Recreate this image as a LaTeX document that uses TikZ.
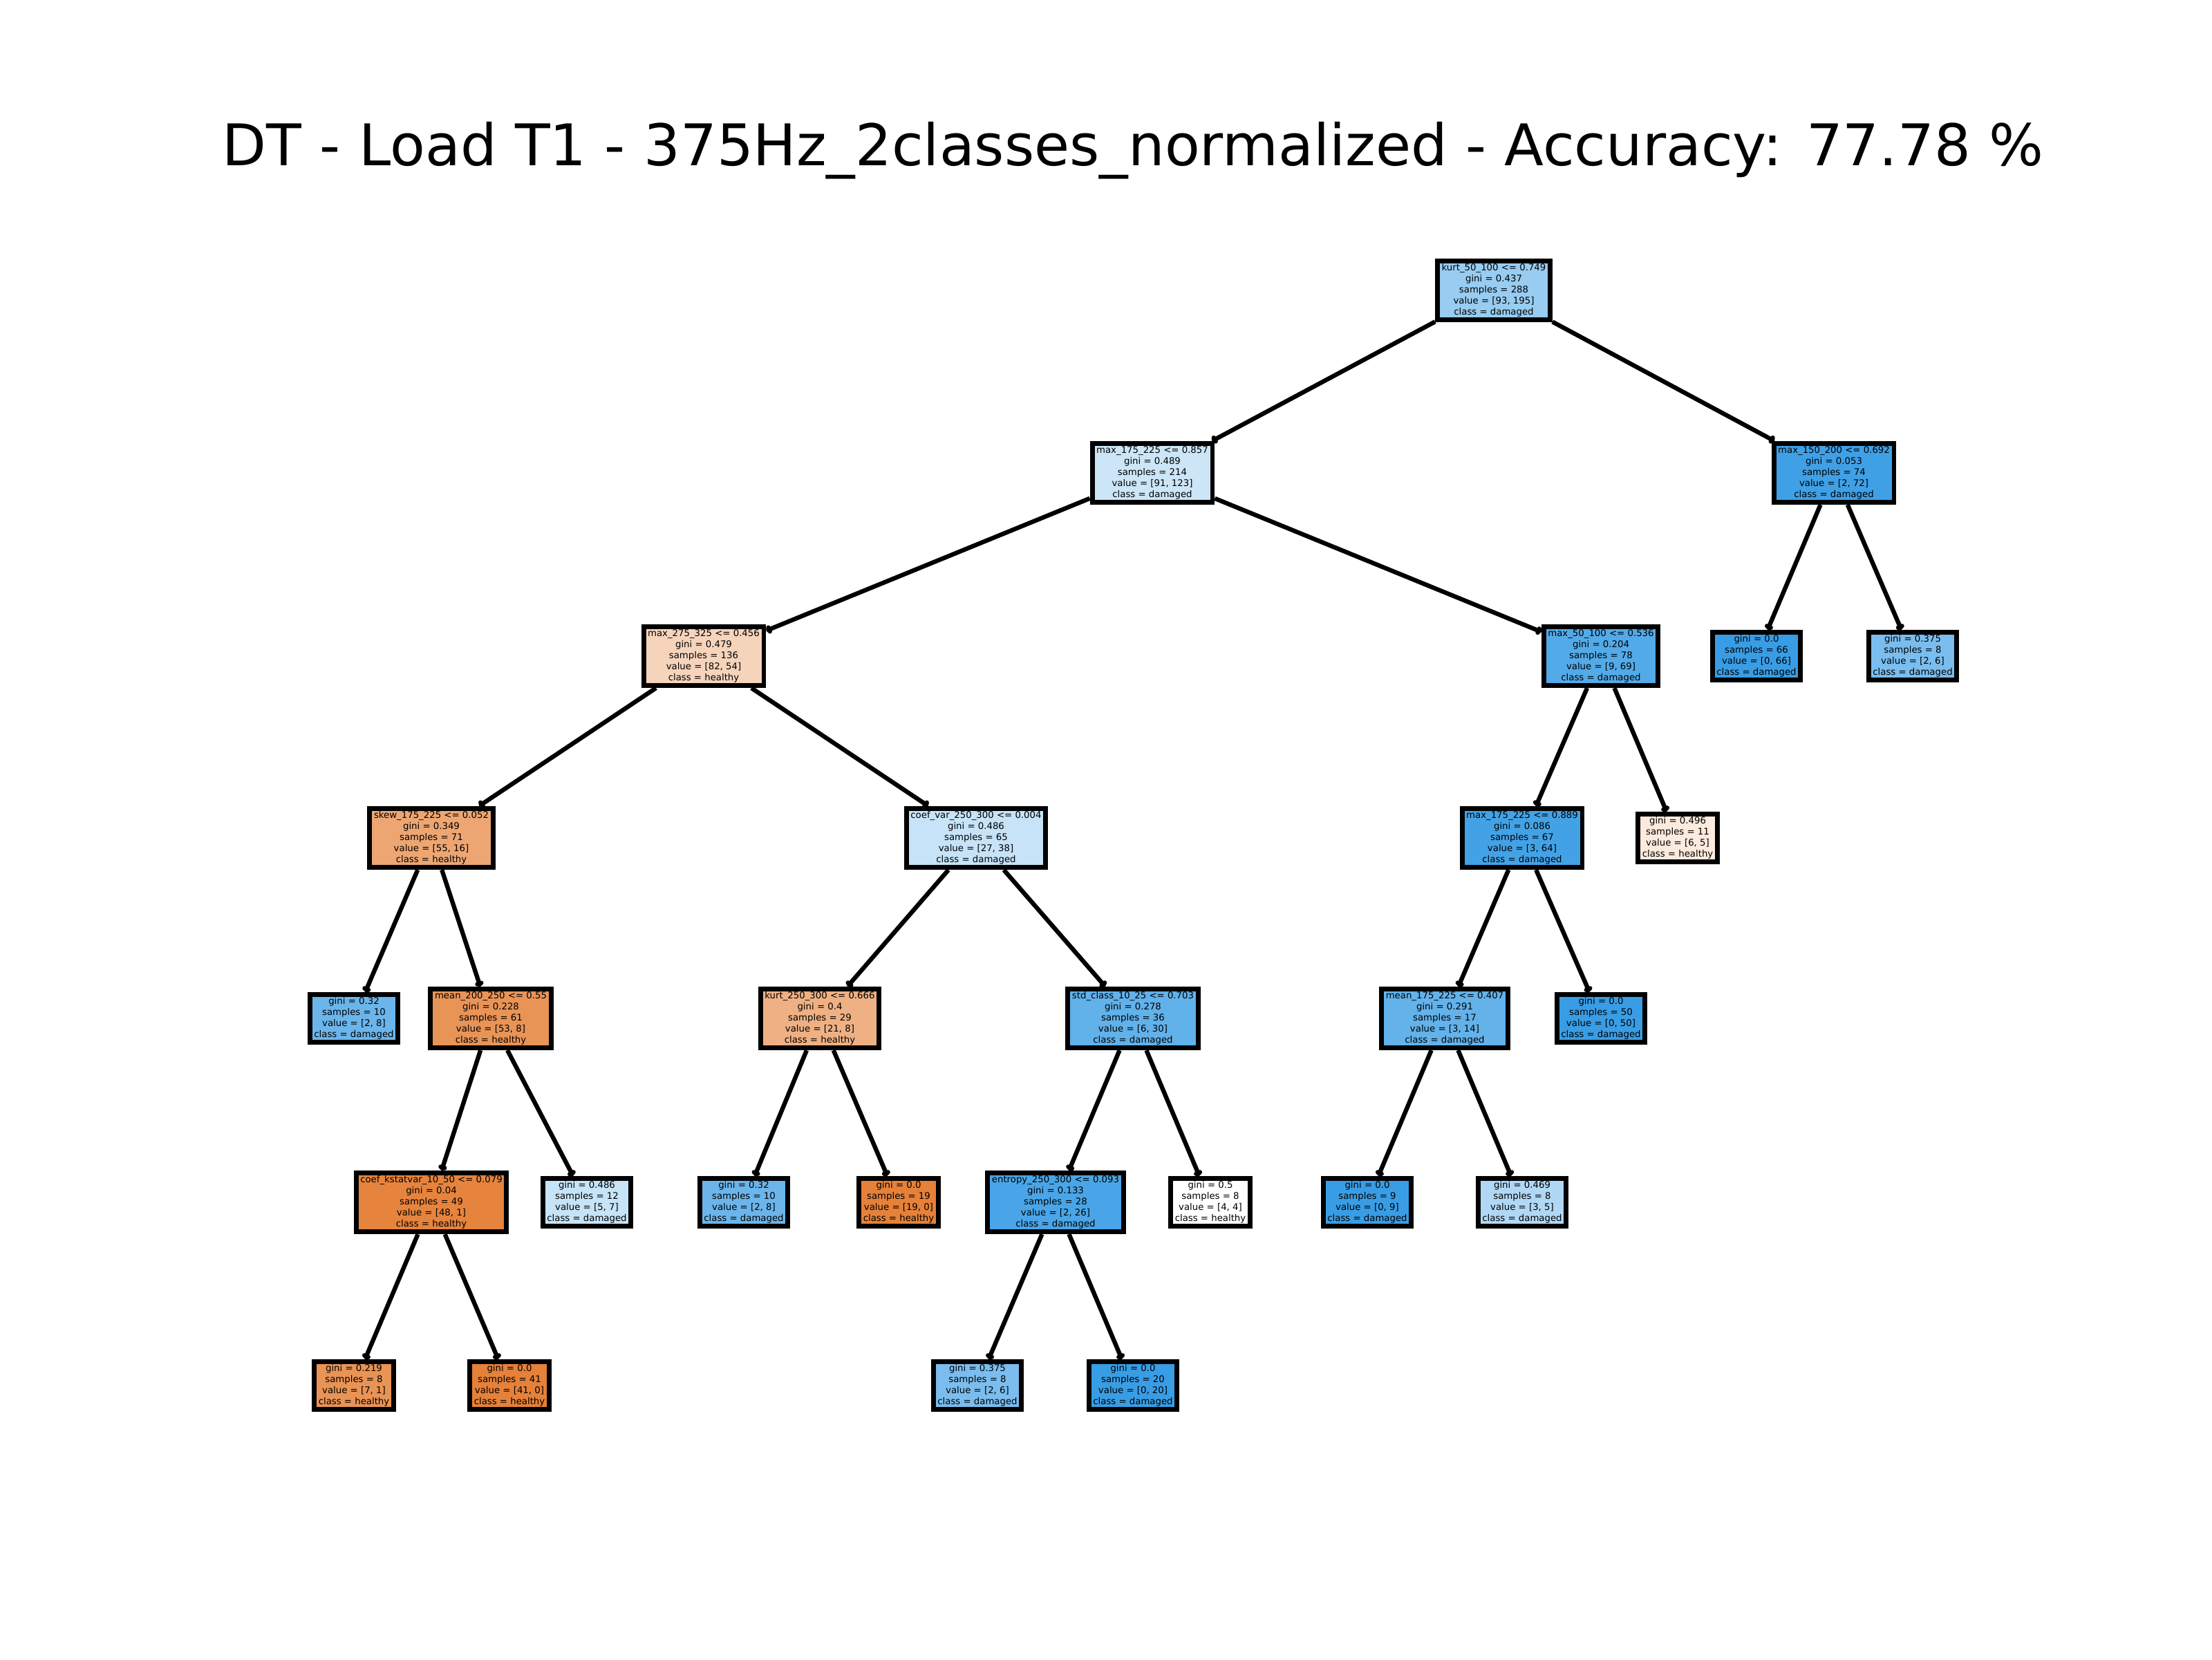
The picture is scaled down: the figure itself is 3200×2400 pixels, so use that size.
\documentclass[tikz,border=0pt]{standalone}
\usepackage{fontspec}
\setmainfont{DejaVu Sans}
\usetikzlibrary{arrows.meta}
\definecolor{healthy}{HTML}{E58139}
\definecolor{damaged}{HTML}{399DE5}
\begin{document}
\begin{tikzpicture}[
    x=0.0127cm, y=-0.0127cm,
    box/.style={rectangle, draw=black, line width=2.5pt, align=center, inner xsep=2.2pt, inner ysep=1.6pt, font=\fontsize{4.8}{5.76}\selectfont},
    arr/.style={-{To[length=2.8pt, width=4.5pt]}, line width=2.3pt}
]
    \useasboundingbox (0,0) rectangle (3200,2400);

    % Title
    \node (title) at (1639,218) {\fontsize{30}{36}\selectfont DT - Load T1 - 375Hz\_2classes\_normalized - Accuracy: 77.78 \%};

    % Depth 0
    \node[box, fill=damaged!52!white] (root) at (2161,420) {kurt\_50\_100 <= 0.749\\gini = 0.437\\samples = 288\\value = [93, 195]\\class = damaged};

    % Depth 1
    \node[box, fill=damaged!26!white] (L) at (1667,684) {max\_175\_225 <= 0.857\\gini = 0.489\\samples = 214\\value = [91, 123]\\class = damaged};
    \node[box, fill=damaged!97!white] (R) at (2653,684) {max\_150\_200 <= 0.692\\gini = 0.053\\samples = 74\\value = [2, 72]\\class = damaged};

    % Depth 2
    \node[box, fill=healthy!34!white] (LL) at (1018,949) {max\_275\_325 <= 0.456\\gini = 0.479\\samples = 136\\value = [82, 54]\\class = healthy};
    \node[box, fill=damaged!87!white] (LR) at (2316,949) {max\_50\_100 <= 0.536\\gini = 0.204\\samples = 78\\value = [9, 69]\\class = damaged};
    \node[box, fill=damaged] (RL) at (2541,949) {gini = 0.0\\samples = 66\\value = [0, 66]\\class = damaged};
    \node[box, fill=damaged!67!white] (RR) at (2767,949) {gini = 0.375\\samples = 8\\value = [2, 6]\\class = damaged};

    % Depth 3
    \node[box, fill=healthy!71!white] (LLL) at (624,1212) {skew\_175\_225 <= 0.052\\gini = 0.349\\samples = 71\\value = [55, 16]\\class = healthy};
    \node[box, fill=damaged!29!white] (LLR) at (1412,1212) {coef\_var\_250\_300 <= 0.004\\gini = 0.486\\samples = 65\\value = [27, 38]\\class = damaged};
    \node[box, fill=damaged!95!white] (LRL) at (2202,1212) {max\_175\_225 <= 0.889\\gini = 0.086\\samples = 67\\value = [3, 64]\\class = damaged};
    \node[box, fill=healthy!17!white] (LRR) at (2427,1212) {gini = 0.496\\samples = 11\\value = [6, 5]\\class = healthy};

    % Depth 4
    \node[box, fill=damaged!75!white] (LLLL) at (512,1473) {gini = 0.32\\samples = 10\\value = [2, 8]\\class = damaged};
    \node[box, fill=healthy!85!white] (LLLR) at (710,1473) {mean\_200\_250 <= 0.55\\gini = 0.228\\samples = 61\\value = [53, 8]\\class = healthy};
    \node[box, fill=healthy!62!white] (LLRL) at (1186,1473) {kurt\_250\_300 <= 0.666\\gini = 0.4\\samples = 29\\value = [21, 8]\\class = healthy};
    \node[box, fill=damaged!80!white] (LLRR) at (1639,1473) {std\_class\_10\_25 <= 0.703\\gini = 0.278\\samples = 36\\value = [6, 30]\\class = damaged};
    \node[box, fill=damaged!79!white] (LRLL) at (2090,1473) {mean\_175\_225 <= 0.407\\gini = 0.291\\samples = 17\\value = [3, 14]\\class = damaged};
    \node[box, fill=damaged] (LRLR) at (2316,1473) {gini = 0.0\\samples = 50\\value = [0, 50]\\class = damaged};

    % Depth 5
    \node[box, fill=healthy!98!white] (LLLRL) at (624,1739) {coef\_kstatvar\_10\_50 <= 0.079\\gini = 0.04\\samples = 49\\value = [48, 1]\\class = healthy};
    \node[box, fill=damaged!29!white] (LLLRR) at (849,1739) {gini = 0.486\\samples = 12\\value = [5, 7]\\class = damaged};
    \node[box, fill=damaged!75!white] (LLRLL) at (1076,1739) {gini = 0.32\\samples = 10\\value = [2, 8]\\class = damaged};
    \node[box, fill=healthy] (LLRLR) at (1300,1739) {gini = 0.0\\samples = 19\\value = [19, 0]\\class = healthy};
    \node[box, fill=damaged!92!white] (LLRRL) at (1527,1739) {entropy\_250\_300 <= 0.093\\gini = 0.133\\samples = 28\\value = [2, 26]\\class = damaged};
    \node[box, fill=white] (LLRRR) at (1751,1739) {gini = 0.5\\samples = 8\\value = [4, 4]\\class = healthy};
    \node[box, fill=damaged] (LRLLL) at (1978,1739) {gini = 0.0\\samples = 9\\value = [0, 9]\\class = damaged};
    \node[box, fill=damaged!40!white] (LRLLR) at (2202,1739) {gini = 0.469\\samples = 8\\value = [3, 5]\\class = damaged};

    % Depth 6
    \node[box, fill=healthy!86!white] (LLLRLL) at (512,2004) {gini = 0.219\\samples = 8\\value = [7, 1]\\class = healthy};
    \node[box, fill=healthy] (LLLRLR) at (737,2004) {gini = 0.0\\samples = 41\\value = [41, 0]\\class = healthy};
    \node[box, fill=damaged!67!white] (LLRRLL) at (1414,2004) {gini = 0.375\\samples = 8\\value = [2, 6]\\class = damaged};
    \node[box, fill=damaged] (LLRRLR) at (1639,2004) {gini = 0.0\\samples = 20\\value = [0, 20]\\class = damaged};

    % Arrows
    \draw[arr] (root) -- (L);
    \draw[arr] (root) -- (R);

    \draw[arr] (L) -- (LL);
    \draw[arr] (L) -- (LR);
    \draw[arr] (R) -- (RL);
    \draw[arr] (R) -- (RR);

    \draw[arr] (LL) -- (LLL);
    \draw[arr] (LL) -- (LLR);
    \draw[arr] (LR) -- (LRL);
    \draw[arr] (LR) -- (LRR);

    \draw[arr] (LLL) -- (LLLL);
    \draw[arr] (LLL) -- (LLLR);
    \draw[arr] (LLR) -- (LLRL);
    \draw[arr] (LLR) -- (LLRR);
    \draw[arr] (LRL) -- (LRLL);
    \draw[arr] (LRL) -- (LRLR);

    \draw[arr] (LLLR) -- (LLLRL);
    \draw[arr] (LLLR) -- (LLLRR);
    \draw[arr] (LLRL) -- (LLRLL);
    \draw[arr] (LLRL) -- (LLRLR);
    \draw[arr] (LLRR) -- (LLRRL);
    \draw[arr] (LLRR) -- (LLRRR);
    \draw[arr] (LRLL) -- (LRLLL);
    \draw[arr] (LRLL) -- (LRLLR);

    \draw[arr] (LLLRL) -- (LLLRLL);
    \draw[arr] (LLLRL) -- (LLLRLR);
    \draw[arr] (LLRRL) -- (LLRRLL);
    \draw[arr] (LLRRL) -- (LLRRLR);
\end{tikzpicture}
\end{document}
